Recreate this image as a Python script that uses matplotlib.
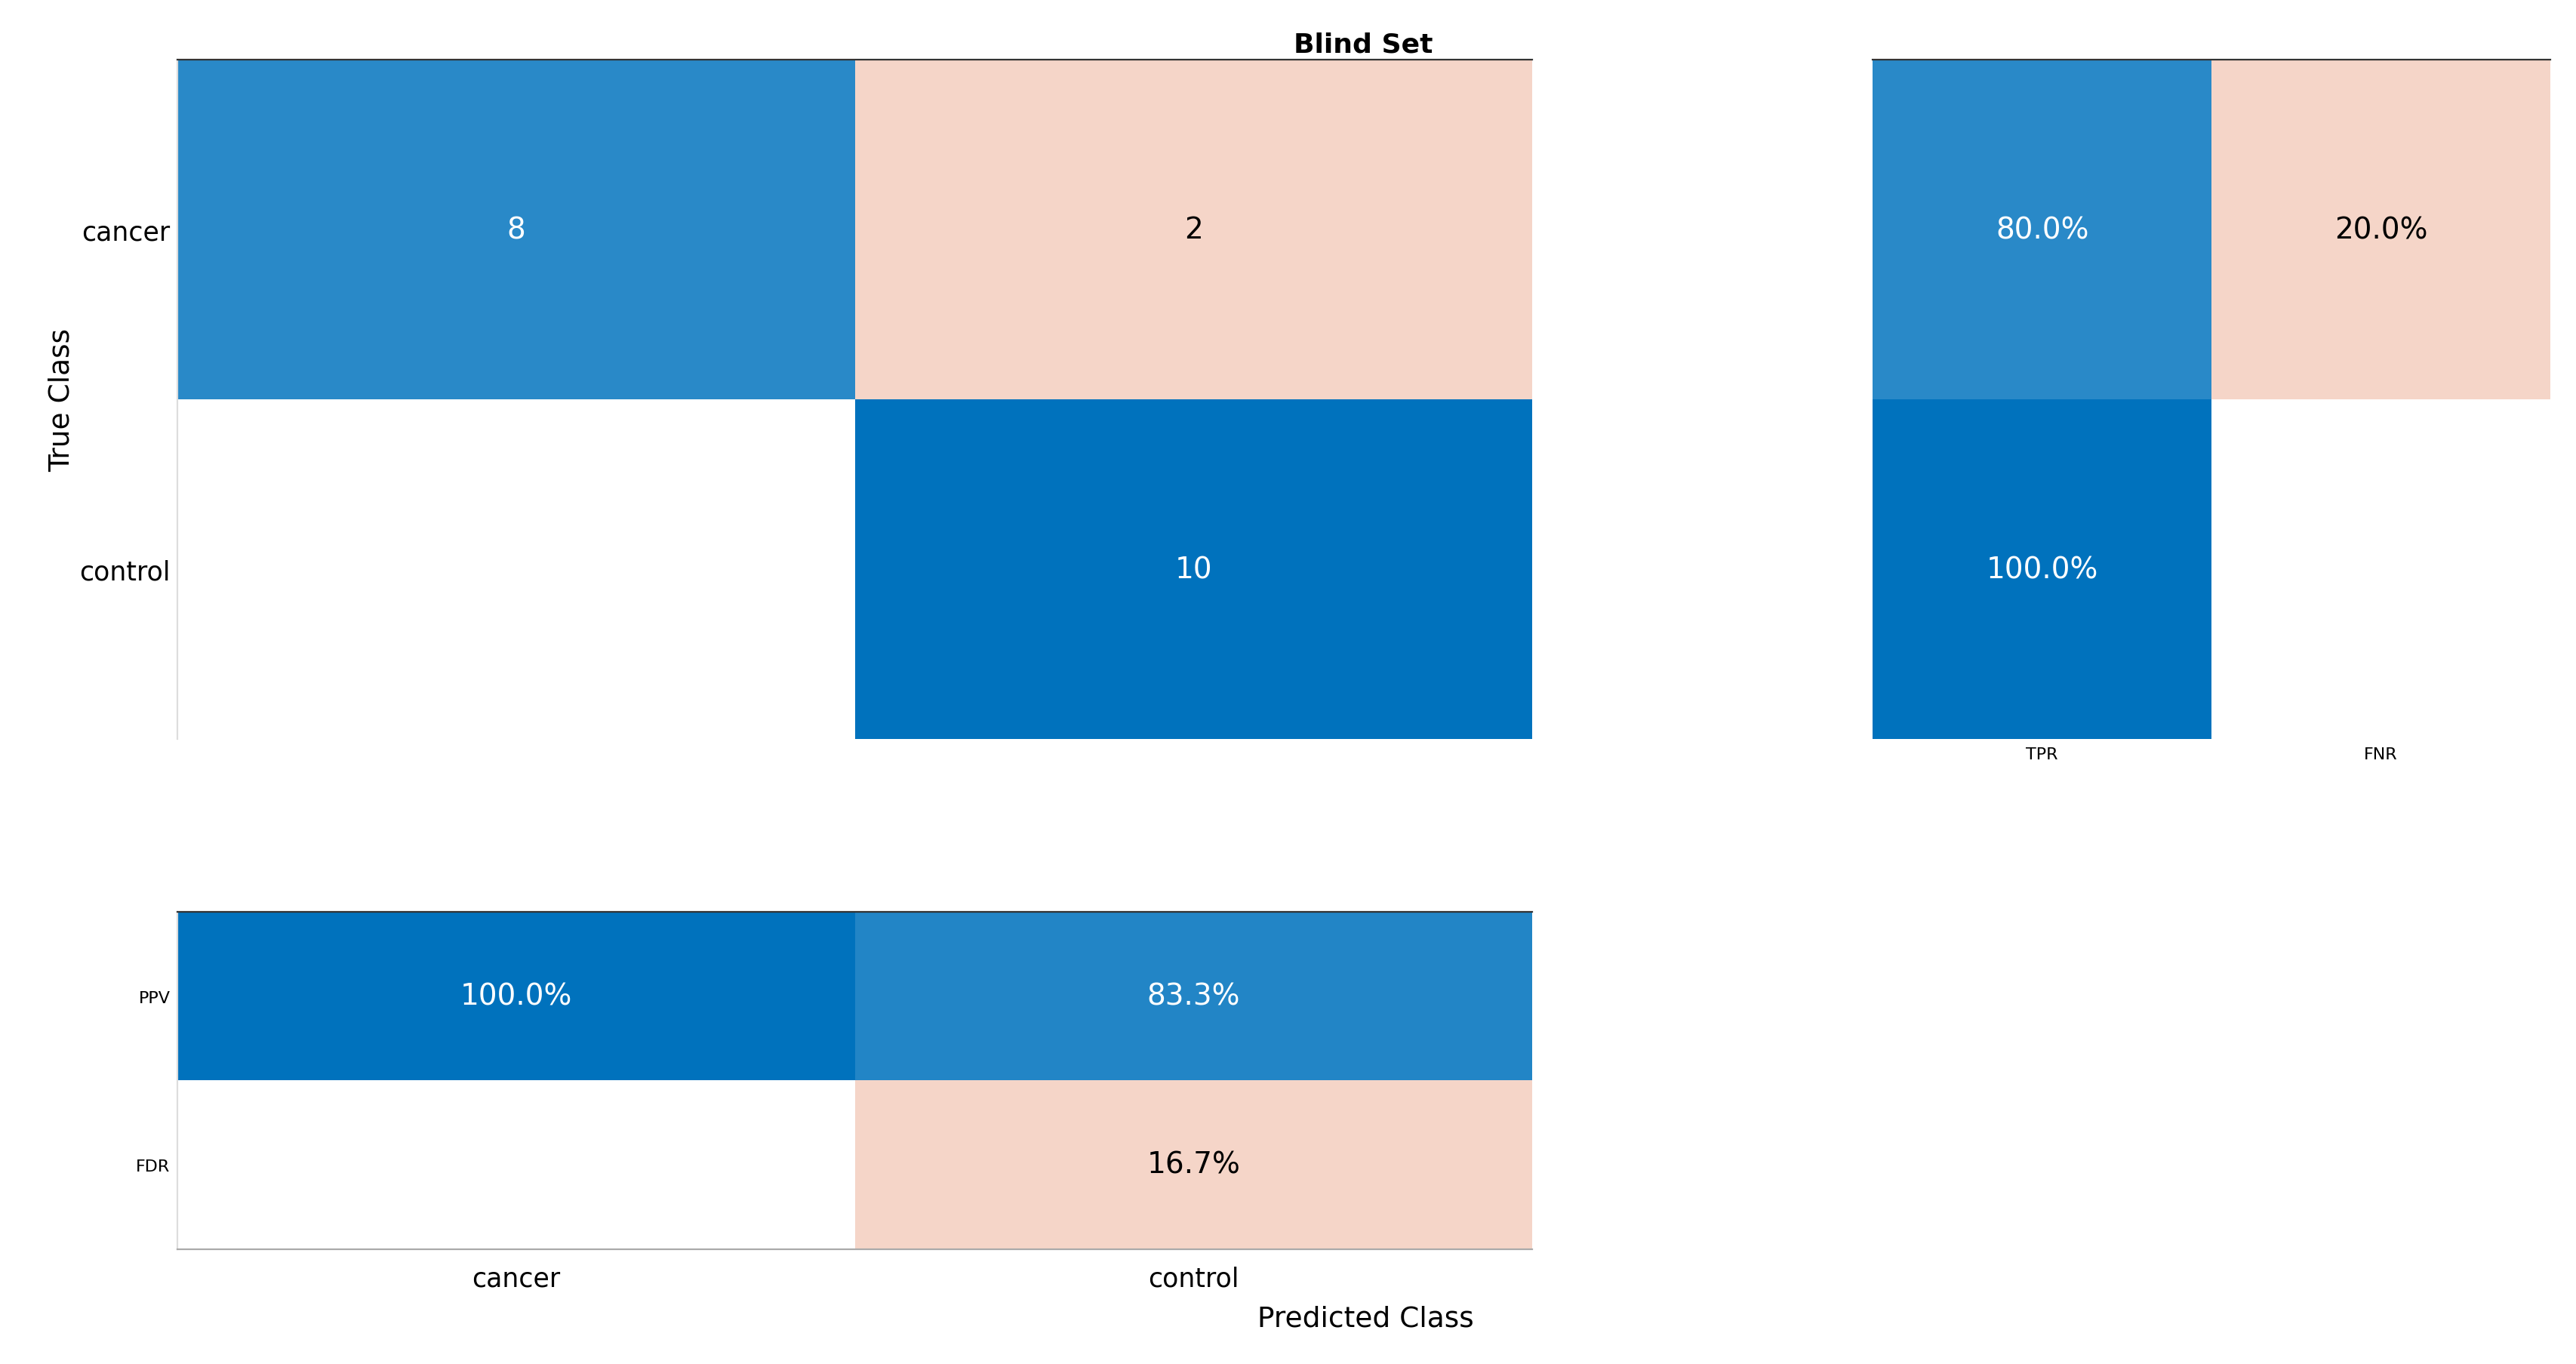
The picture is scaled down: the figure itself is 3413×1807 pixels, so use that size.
import matplotlib.pyplot as plt
import numpy as np
from matplotlib.colors import to_rgb

classes = ["cancer", "control"]
counts = np.array([[8, 2], [0, 10]])
row_labels = ["TPR", "FNR"]
col_labels = ["PPV", "FDR"]

BLUE = np.array(to_rgb("#0072BD"))
PINK = np.array(to_rgb("#F5D5C8"))
WHITE = np.ones(3)


def cell_color(frac, good):
    if frac <= 0:
        return WHITE
    if good:
        t = 0.2 + 0.8 * frac
        return WHITE * (1 - t) + BLUE * t
    return PINK


def draw_cells(ax, vals, good, texts, nrows, ncols):
    for i in range(nrows):
        for j in range(ncols):
            v = vals[i][j]
            c = cell_color(v, good[i][j])
            ax.add_patch(plt.Rectangle((j, i), 1, 1, color=c, lw=0))
            if v > 0:
                tc = "white" if good[i][j] else "black"
                ax.text(j + 0.5, i + 0.5, texts[i][j], ha="center", va="center",
                        color=tc, fontsize=14)
    ax.set_xlim(0, ncols)
    ax.set_ylim(nrows, 0)
    for s in ax.spines.values():
        s.set_visible(False)
    ax.spines["top"].set_visible(True)
    ax.spines["top"].set_color("#333333")
    ax.tick_params(length=0)


fig = plt.figure(figsize=(3413 / 200, 1808 / 200), dpi=200)
fs = 12.5

# main matrix
ax = fig.add_axes([0.0689, 0.458, 0.526, 0.4976])
mx = counts.max()
good = [[i == j for j in range(2)] for i in range(2)]
draw_cells(ax, counts / mx, good, [[str(v) for v in r] for r in counts], 2, 2)
ax.set_xticks([])
ax.set_yticks([0.5, 1.5], classes, fontsize=fs)
ax.spines["left"].set_visible(True)
ax.spines["left"].set_color("#dddddd")
ax.set_ylabel("True Class", fontsize=fs + 1, labelpad=2)
ax.set_title("Blind Set", fontsize=13, fontweight="bold", x=0.875, pad=4)

# row summary
rs = counts.sum(axis=1)
tpr = np.diag(counts) / rs
fnr = 1 - tpr
rvals = np.column_stack([tpr, fnr])
axr = fig.add_axes([0.727, 0.458, 0.263, 0.4976])
rgood = [[True, False], [True, False]]
draw_cells(axr, rvals, rgood, [[f"{v*100:.1f}%" for v in r] for r in rvals], 2, 2)
axr.set_yticks([])
axr.set_xticks([0.5, 1.5], row_labels, fontsize=8)

# column summary
cs = counts.sum(axis=0)
ppv = np.diag(counts) / cs
fdr = 1 - ppv
cvals = np.vstack([ppv, fdr])
axb = fig.add_axes([0.0689, 0.0843, 0.526, 0.247])
cgood = [[True, True], [False, False]]
draw_cells(axb, cvals, cgood, [[f"{v*100:.1f}%" for v in r] for r in cvals], 2, 2)
axb.spines["bottom"].set_visible(True)
axb.spines["bottom"].set_color("#aaaaaa")
axb.spines["left"].set_visible(True)
axb.spines["left"].set_color("#dddddd")
axb.set_yticks([0.5, 1.5], col_labels, fontsize=8)
axb.set_xticks([0.5, 1.5], classes, fontsize=fs)
axb.tick_params(axis="x", pad=8)
fig.text(0.53, 0.028, "Predicted Class", ha="center", fontsize=fs + 1)

fig.savefig("out.png", dpi=200, facecolor="white")
